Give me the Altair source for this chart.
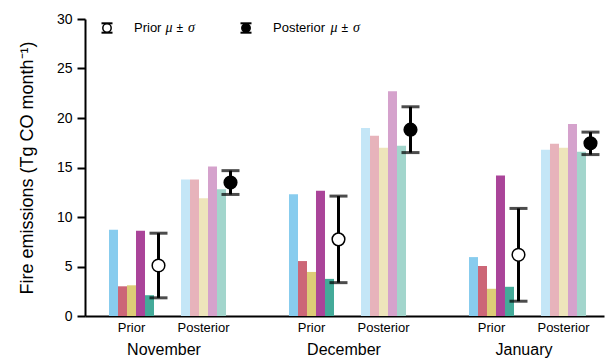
import altair as alt
import pandas as pd

months = ["November", "December", "January"]
stages = ["Prior", "Posterior"]

# Fire emissions (Tg CO month^-1), five estimates per month and stage
prior_nov = [8.7, 3.0, 3.1, 8.6, 2.1]
prior_dec = [12.3, 5.55, 4.45, 12.65, 3.75]
prior_jan = [5.95, 5.05, 2.75, 14.2, 2.95]
post_nov = [13.8, 13.8, 11.9, 15.1, 12.8]
post_dec = [19.0, 18.2, 17.0, 22.7, 17.2]
post_jan = [16.8, 17.4, 17.0, 19.4, 16.6]

prior_colors = ["#88CCEE", "#CC6677", "#DDCC77", "#AA4499", "#44AA99"]
post_colors = ["#C4E6F7", "#E7B3BB", "#EEE5BB", "#D5A2CC", "#A2D5CC"]

rows = []
for m, pr, po in zip(months, [prior_nov, prior_dec, prior_jan],
                     [post_nov, post_dec, post_jan]):
    for i, v in enumerate(pr):
        rows.append({"month": m, "stage": "Prior", "series": i + 1, "value": v})
    for i, v in enumerate(po):
        rows.append({"month": m, "stage": "Posterior", "series": i + 1, "value": v})
df = pd.DataFrame(rows)

labels_df = pd.DataFrame([{"month": m, "stage": s} for m in months for s in stages])

# slots inside each month: five prior bars, prior error bar, gap, five posterior bars, posterior error bar
slots = ["p1", "p2", "p3", "p4", "p5", "pe", "g1", "g2",
         "q1", "q2", "q3", "q4", "q5", "qe"]
color_keys = [f"Prior{i}" for i in range(1, 6)] + [f"Posterior{i}" for i in range(1, 6)]

FONT = "Liberation Sans"

x_enc = alt.X(
    "month:N",
    scale=alt.Scale(domain=months, paddingInner=0.3, paddingOuter=0.0917, align=0.727),
    axis=alt.Axis(title=None, labelAngle=0, ticks=False, labelFontSize=16,
                  labelPadding=25, labelOffset=-8, labelColor="black",
                  domainColor="black", domainWidth=2, labelFont=FONT),
)


def xo():
    return alt.XOffset("slot:N", scale=alt.Scale(domain=slots, paddingInner=0, paddingOuter=0))


y_axis = alt.Axis(
    title="Fire emissions (Tg CO month⁻¹)", values=[0, 5, 10, 15, 20, 25, 30],
    grid=False, tickSize=8, tickWidth=2, tickColor="black", domainColor="black",
    domainWidth=2, labelFontSize=14, labelPadding=5, labelColor="black", labelFont=FONT,
    titleFont=FONT, titleFontSize=18, titleFontWeight="normal", titleColor="black",
    titleX=-53, titleY=148.5, titleAngle=270, titleAlign="center", titleBaseline="alphabetic",
)
y_scale = alt.Scale(domain=[0, 30], nice=False)

base = alt.Chart(df).transform_calculate(
    slot="(datum.stage == 'Prior' ? 'p' : 'q') + datum.series",
    ckey="datum.stage + datum.series",
)

bars = base.mark_bar().encode(
    x=x_enc, xOffset=xo(),
    y=alt.Y("value:Q", scale=y_scale, axis=y_axis),
    color=alt.Color("ckey:N", scale=alt.Scale(domain=color_keys, range=prior_colors + post_colors),
                    legend=None),
)

stats = alt.Chart(df).transform_aggregate(
    mean="mean(value)", sd="stdev(value)", groupby=["month", "stage"]
).transform_calculate(
    lo="datum.mean - datum.sd",
    hi="datum.mean + datum.sd",
    slot="datum.stage == 'Prior' ? 'pe' : 'qe'",
)

whisker = stats.mark_rule(color="black", strokeWidth=3).encode(
    x=x_enc, xOffset=xo(),
    y=alt.Y("lo:Q", scale=y_scale, axis=y_axis), y2="hi:Q",
)
cap_lo = stats.mark_tick(color="black", thickness=3, size=18).encode(
    x=x_enc, xOffset=xo(), y=alt.Y("lo:Q", scale=y_scale, axis=y_axis),
)
cap_hi = stats.mark_tick(color="black", thickness=3, size=18).encode(
    x=x_enc, xOffset=xo(), y=alt.Y("hi:Q", scale=y_scale, axis=y_axis),
)
dots = stats.mark_point(shape="circle", filled=True, size=160, stroke="black",
                        strokeWidth=1.5, opacity=1).encode(
    x=x_enc, xOffset=xo(), y=alt.Y("mean:Q", scale=y_scale, axis=y_axis),
    fill=alt.Fill("stage:N", scale=alt.Scale(domain=stages, range=["white", "black"]),
                  legend=None),
)

stage_text = alt.Chart(labels_df).transform_calculate(
    slot="datum.stage == 'Prior' ? 'p3' : 'q3'"
).mark_text(font=FONT, fontSize=13, baseline="alphabetic", align="center", color="black").encode(
    x=x_enc, xOffset=xo(), y=alt.value(313), text="stage:N",
)


def legend_entry(cx, name, fill, name_w):
    """Error-bar glyph followed by 'name mu ± sigma'."""
    one = alt.Chart(pd.DataFrame({"k": [0]}))
    caps = [
        one.mark_rule(color="black", strokeWidth=2).encode(
            x=alt.value(cx - 5.5), x2=alt.value(cx + 5.5), y=alt.value(yy))
        for yy in (4.3, 13.7)
    ]
    glyph = one.mark_point(shape="circle", filled=True, fill=fill, stroke="black",
                           strokeWidth=1.5, size=70, opacity=1).encode(
        x=alt.value(cx), y=alt.value(9))
    tx = cx + 27
    parts = [
        one.mark_text(font=FONT, fontSize=13, align="left", baseline="alphabetic",
                      color="black").encode(x=alt.value(tx), y=alt.value(12.7),
                                            text=alt.value(name)),
        one.mark_text(font="Liberation Serif", fontStyle="italic", fontSize=14, align="left",
                      baseline="alphabetic", color="black").encode(
            x=alt.value(tx + name_w), y=alt.value(12.7), text=alt.value("μ")),
        one.mark_text(font=FONT, fontSize=12, align="left", baseline="alphabetic",
                      color="black").encode(x=alt.value(tx + name_w + 11), y=alt.value(12.7),
                                            text=alt.value("±")),
        one.mark_text(font="Liberation Serif", fontStyle="italic", fontSize=14, align="left",
                      baseline="alphabetic", color="black").encode(
            x=alt.value(tx + name_w + 22.5), y=alt.value(12.7), text=alt.value("σ")),
    ]
    return caps + [glyph] + parts


legend_layers = legend_entry(22, "Prior", "white", 31.5) + legend_entry(161, "Posterior", "black", 57.5)

chart = alt.layer(
    bars, whisker, cap_lo, cap_hi, dots, stage_text, *legend_layers
).properties(
    width=519, height=297,
    padding={"left": 85, "top": 19, "right": 2, "bottom": 42},
    autosize=alt.AutoSizeParams(type="none"),
    background="white",
).configure_view(stroke=None)

chart.save("out.html", embed_options={"renderer": "svg", "actions": False})
